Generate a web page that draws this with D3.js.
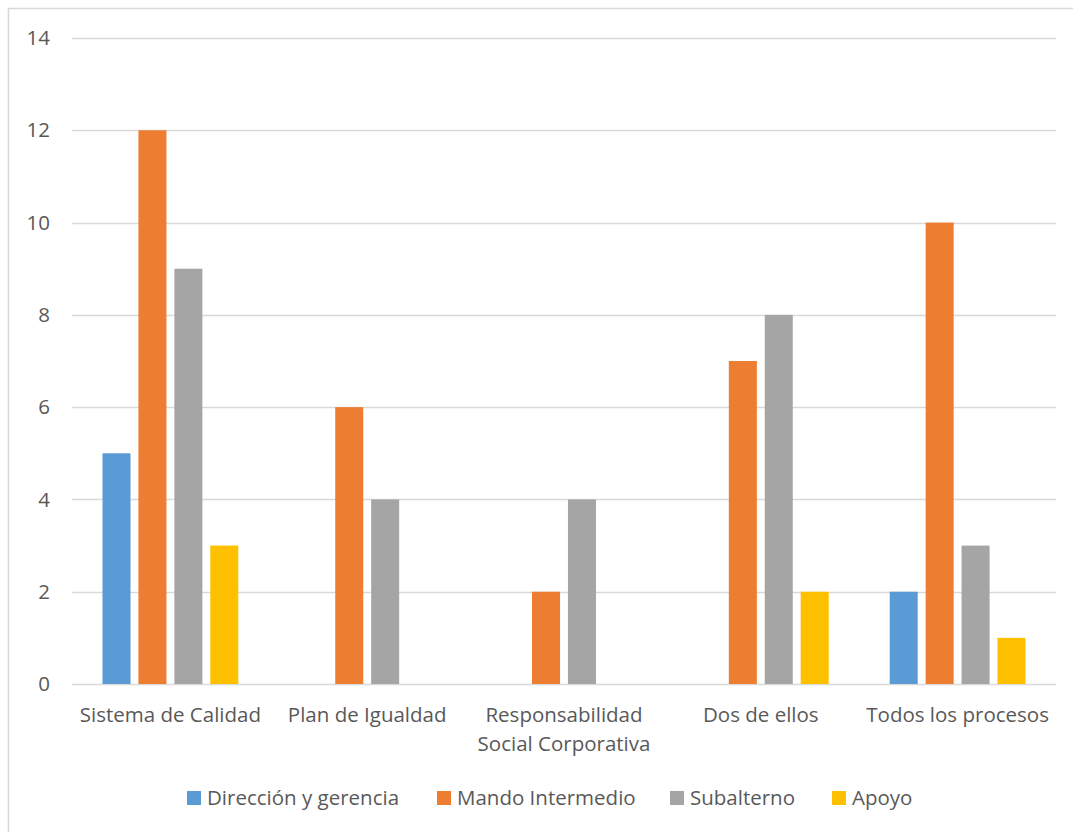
<!DOCTYPE html>
<html><head><meta charset="utf-8">
<script src="https://cdn.jsdelivr.net/npm/d3@7"></script>
<style>body{margin:0;background:#fff}svg{display:block}text{font-family:"Open Sans",sans-serif;fill:#595959}</style>
</head><body><svg id="c" width="1073" height="832"></svg>
<script>
const categories = [["Sistema de Calidad"],["Plan de Igualdad"],["Responsabilidad","Social Corporativa"],["Dos de ellos"],["Todos los procesos"]];
const seriesNames = ["Dirección y gerencia","Mando Intermedio","Subalterno","Apoyo"];
const direccion = [5,0,0,0,2];
const mando = [12,6,2,7,10];
const subalterno = [9,4,4,8,3];
const apoyo = [3,0,0,2,1];
const yTicks = [0,2,4,6,8,10,12,14];
const colors = ["#5B9BD5","#ED7D31","#A5A5A5","#FFC000"];
const series = [direccion, mando, subalterno, apoyo];

const svg = d3.select("#c");
svg.append("rect").attr("x",8.5).attr("y",8.5).attr("width",1070).attr("height",830)
  .attr("fill","#fff").attr("stroke","#D9D9D9").attr("stroke-width",1.5);

const pL=72, pR=1056, pT=38, pB=684;
const fs = 20.5;
const x0 = d3.scaleBand().domain(d3.range(categories.length)).range([pL,pR]);
const x1 = d3.scaleBand().domain(d3.range(series.length)).range([30.5, x0.bandwidth()-30.5]).paddingInner(0.22);
const y = d3.scaleLinear().domain([0,14]).range([pB,pT]);

svg.append("g").selectAll("line").data(yTicks).join("line")
  .attr("x1",pL).attr("x2",pR).attr("y1",d=>Math.round(y(d))+0.5).attr("y2",d=>Math.round(y(d))+0.5)
  .attr("stroke","#D9D9D9").attr("stroke-width",1.3);

svg.append("g").selectAll("text").data(yTicks).join("text")
  .attr("x",50).attr("y",d=>y(d)).attr("dy","0.35em").attr("text-anchor","end")
  .attr("font-size",fs).text(d=>d);

const g = svg.append("g");
series.forEach((s,si)=>{
  g.selectAll(null).data(s).join("rect")
    .attr("x",(d,i)=>x0(i)+x1(si)).attr("width",x1.bandwidth())
    .attr("y",d=>y(d)).attr("height",d=>y(0)-y(d)).attr("fill",colors[si]);
});

const xl = svg.append("g");
categories.forEach((lines,i)=>{
  const t = xl.append("text").attr("x",x0(i)+x0.bandwidth()/2).attr("y",722)
    .attr("text-anchor","middle").attr("font-size",fs);
  lines.forEach((l,j)=>t.append("tspan").attr("x",x0(i)+x0.bandwidth()/2).attr("dy",j?29:0).text(l));
});

const legX = [187,437,670,832];
const leg = svg.append("g");
seriesNames.forEach((n,i)=>{
  leg.append("rect").attr("x",legX[i]).attr("y",791).attr("width",14).attr("height",14).attr("fill",colors[i]);
  leg.append("text").attr("x",legX[i]+20).attr("y",798).attr("dy","0.35em").attr("font-size",fs).text(n);
});
</script></body></html>
